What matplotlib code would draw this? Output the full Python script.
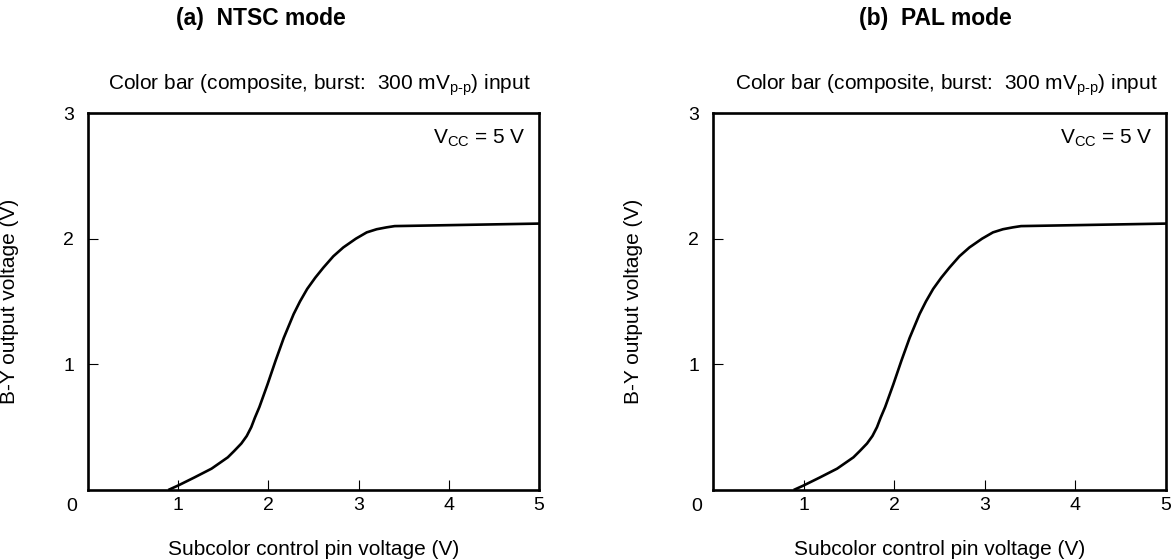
import matplotlib
matplotlib.use("Agg")
import matplotlib.pyplot as plt

plt.rcParams['font.family'] = ['Liberation Sans', 'DejaVu Sans']
plt.rcParams['mathtext.fontset'] = 'custom'
plt.rcParams['mathtext.rm'] = 'Liberation Sans'
plt.rcParams['mathtext.it'] = 'Liberation Sans'
plt.rcParams['mathtext.bf'] = 'Liberation Sans:bold'

# Data (same curve in both modes)
ntsc_x = [0.89, 1.0, 1.18, 1.37, 1.55, 1.62, 1.70, 1.76, 1.81, 1.85, 1.90, 1.99, 2.08, 2.17,
          2.28, 2.35, 2.43, 2.52, 2.61, 2.72, 2.83, 2.97, 3.09, 3.20, 3.31, 3.40, 5.0]
ntsc_y = [0.0, 0.036, 0.10, 0.17, 0.26, 0.31, 0.37, 0.43, 0.50, 0.575, 0.66, 0.84, 1.03, 1.21,
          1.40, 1.50, 1.60, 1.69, 1.77, 1.86, 1.93, 2.00, 2.05, 2.075, 2.09, 2.10, 2.12]
pal_x = [0.89, 1.0, 1.18, 1.37, 1.55, 1.62, 1.70, 1.76, 1.81, 1.85, 1.90, 1.99, 2.08, 2.17,
         2.28, 2.35, 2.43, 2.52, 2.61, 2.72, 2.83, 2.97, 3.09, 3.20, 3.31, 3.40, 5.0]
pal_y = [0.0, 0.036, 0.10, 0.17, 0.26, 0.31, 0.37, 0.43, 0.50, 0.575, 0.66, 0.84, 1.03, 1.21,
         1.40, 1.50, 1.60, 1.69, 1.77, 1.86, 1.93, 2.00, 2.05, 2.075, 2.09, 2.10, 2.12]

x_ticks = [1, 2, 3, 4, 5]
y_ticks = [1, 2, 3]
titles = ["(a)  NTSC mode", "(b)  PAL mode"]
subtitle = r"Color bar (composite, burst:  300 mV$_{\mathrm{p\text{-}p}}$) input"
vcc_label = r"V$_{\mathrm{CC}}$ = 5 V"
xlabel = "Subcolor control pin voltage (V)"
ylabel = "B-Y output voltage (V)"

W, H = 1174, 560
fig = plt.figure(figsize=(W / 100, H / 100), dpi=100)

panels = [
    (88, 539, ntsc_x, ntsc_y, titles[0], 261),
    (713, 1166, pal_x, pal_y, titles[1], 935),
]
top_px, bot_px = 113, 490
fs_tick = 14
fs_lab = 15

for left, right, xs, ys, title, tcx in panels:
    ax = fig.add_axes([left / W, 1 - bot_px / H, (right - left) / W, (bot_px - top_px) / H])
    ax.plot(xs, ys, color='black', lw=1.9, solid_capstyle='butt', solid_joinstyle='round')
    ax.set_xlim(0, 5)
    ax.set_ylim(0, 3)
    for s in ax.spines.values():
        s.set_linewidth(1.9)
    ax.set_xticks(x_ticks)
    ax.set_yticks(y_ticks)
    ax.tick_params(direction='in', length=7, width=0.8, labelsize=fs_tick, colors='black')
    ax.tick_params(axis='x', pad=5)
    ax.tick_params(axis='y', pad=10)
    ax.annotate("0", xy=(0, 0), xycoords='data', xytext=(-16, -8), textcoords='offset pixels',
                ha='center', va='top', fontsize=fs_tick)
    ax.set_xlabel(xlabel, fontsize=fs_lab, labelpad=19)
    ax.set_ylabel(ylabel, fontsize=fs_lab)
    ax.yaxis.set_label_coords(-0.154, 0.5)
    ax.text(0.97, 0.934, vcc_label, transform=ax.transAxes, ha='right', va='center', fontsize=fs_lab)
    ax.text(right - 8, H - 85, subtitle, transform=None, ha='right', va='center', fontsize=fs_lab)
    fig.text(tcx / W, 1 - 19 / H, title, ha='center', va='center', fontsize=16.5, fontweight='bold')

fig.savefig("out.png", dpi=100, facecolor='white')
